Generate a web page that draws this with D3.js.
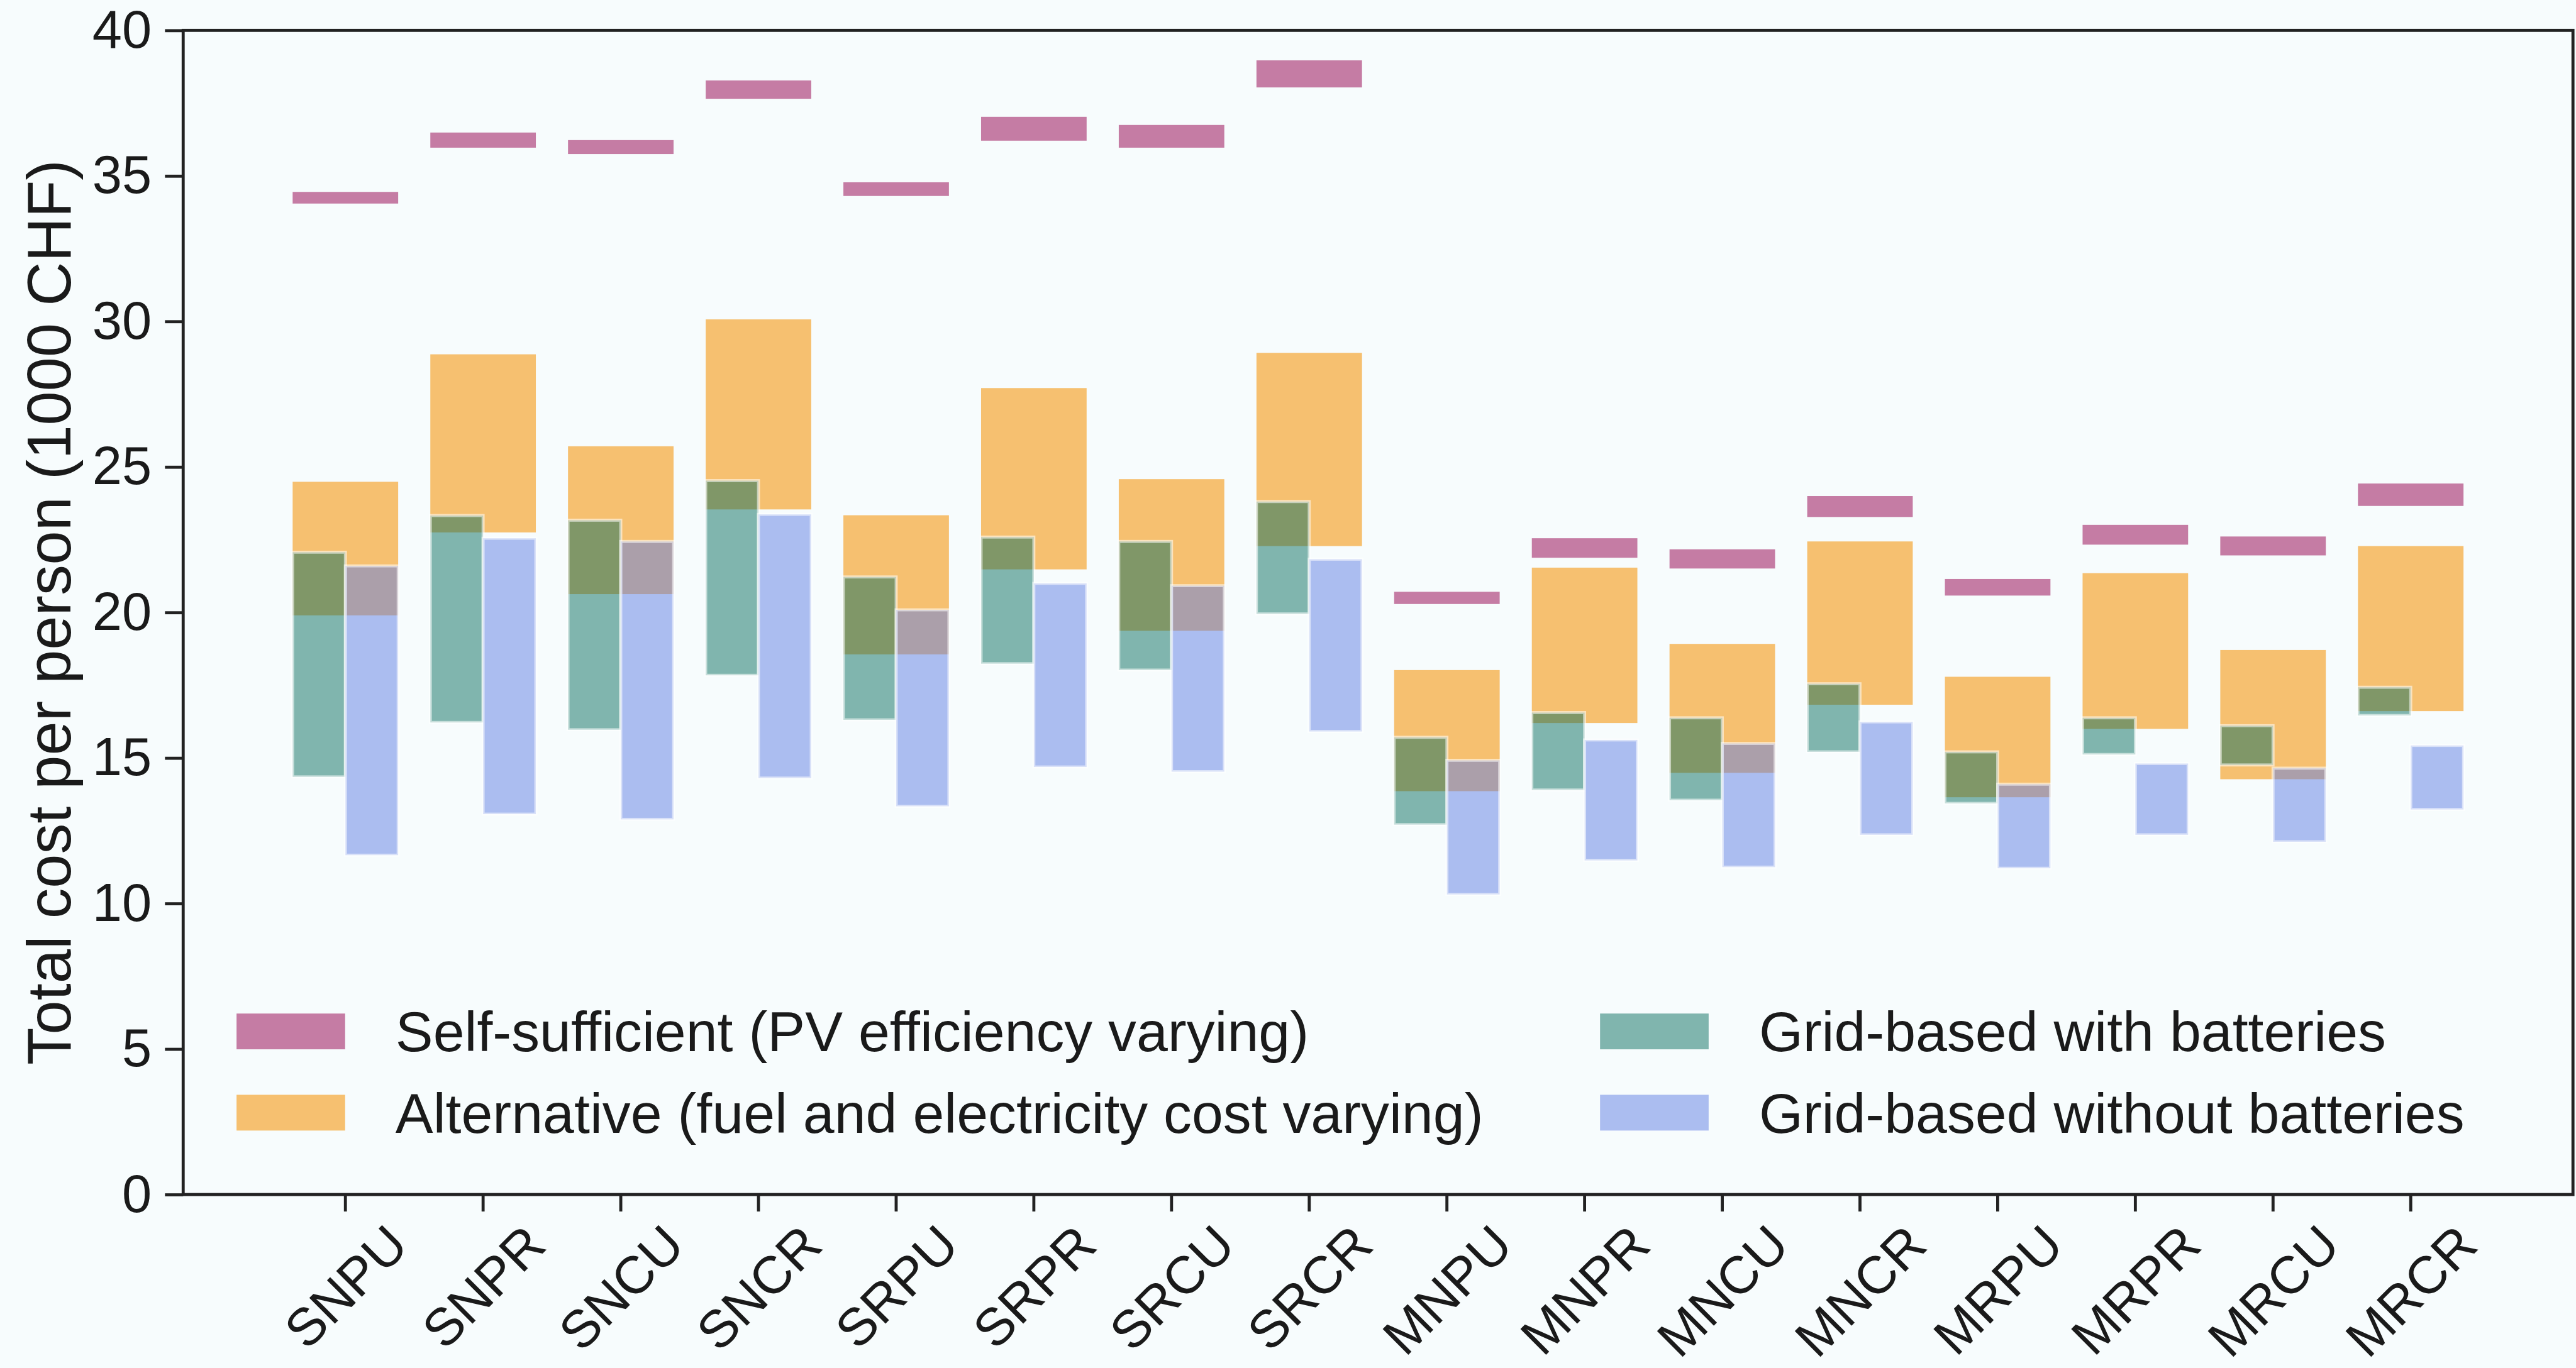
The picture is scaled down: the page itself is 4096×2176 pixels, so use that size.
<!DOCTYPE html>
<html>
<head>
<meta charset="utf-8">
<style>
  body { margin: 0; background: #f7fcfd; }
  text { font-family: "Liberation Sans", Arial, sans-serif; fill: #1a1a1a; }
</style>
</head>
<body>
<script src="https://cdn.jsdelivr.net/npm/d3@7"></script>
<script>

// scenarios on the x axis
var cats = ["SNPU","SNPR","SNCU","SNCR","SRPU","SRPR","SRCU","SRCR",
            "MNPU","MNPR","MNCU","MNCR","MRPU","MRPR","MRCU","MRCR"];

// self-sufficient range (PV efficiency varying), 1000 CHF
var selfLo = [34.05,35.97,35.75,37.65,34.31,36.21,35.97,38.04,20.29,21.88,21.51,23.28,20.58,22.33,21.96,23.66];
var selfHi = [34.45,36.49,36.23,38.28,34.78,37.03,36.75,38.97,20.71,22.55,22.17,24.00,21.15,23.01,22.61,24.43];

// alternative range (fuel and electricity cost varying)
var altLo = [19.90,22.75,20.63,23.54,18.56,21.48,19.37,22.28,13.86,16.20,14.49,16.83,13.65,16.00,14.27,16.61];
var altHi = [24.49,28.87,25.71,30.07,23.34,27.71,24.58,28.92,18.02,21.54,18.92,22.44,17.79,21.35,18.71,22.28];

// grid-based with batteries
var batLo = [14.35,16.22,15.97,17.84,16.31,18.24,18.02,19.95,12.71,13.90,13.55,15.21,13.44,15.12,14.76,16.46];
var batHi = [22.07,23.33,23.17,24.53,21.22,22.59,22.44,23.81,15.71,16.56,16.38,17.55,15.21,16.38,16.11,17.43];

// grid-based without batteries
var noBatLo = [11.66,13.07,12.89,14.31,13.34,14.69,14.53,15.91,10.31,11.48,11.25,12.36,11.21,12.36,12.12,13.23];
var noBatHi = [21.60,22.55,22.44,23.37,20.09,21.00,20.92,21.83,14.92,15.62,15.50,16.24,14.10,14.81,14.65,15.43];

var yTicks = [0,5,10,15,20,25,30,35,40];
var legendLabels = ["Self-sufficient (PV efficiency varying)",
                    "Alternative (fuel and electricity cost varying)",
                    "Grid-based with batteries",
                    "Grid-based without batteries"];

var selfColor = "#c57ca4", altColor = "#f6c070",
    batColor = "#096e5f", noBatColor = "#5f7ee3";

var W = 4247, H = 2256;
var m = {t: 50, r: 5, b: 286, l: 302};
var w = W - m.l - m.r, h = H - m.t - m.b;

var svg = d3.select("body").append("svg")
    .attr("width", 4096).attr("height", 2176)
    .attr("viewBox", "0 0 " + W + " " + H);

svg.append("rect").attr("width", W).attr("height", H).attr("fill", "#f7fcfd");

var g = svg.append("g").attr("transform", "translate(" + m.l + "," + m.t + ")");

var x = d3.scaleBand().domain(cats).range([0, w]).paddingInner(0.2335).paddingOuter(0.795);
var y = d3.scaleLinear().domain([0, 40]).range([h, 0]);
var bw = x.bandwidth();

var idx = d3.range(cats.length);

// alternative (full group width)
g.selectAll("rect.alt").data(idx).enter().append("rect")
    .attr("class", "alt")
    .attr("x", function(i) { return x(cats[i]); })
    .attr("width", bw)
    .attr("y", function(i) { return y(altHi[i]); })
    .attr("height", function(i) { return y(altLo[i]) - y(altHi[i]); })
    .attr("fill", altColor);

// self-sufficient
g.selectAll("rect.self").data(idx).enter().append("rect")
    .attr("class", "self")
    .attr("x", function(i) { return x(cats[i]); })
    .attr("width", bw)
    .attr("y", function(i) { return y(selfHi[i]); })
    .attr("height", function(i) { return y(selfLo[i]) - y(selfHi[i]); })
    .attr("fill", selfColor);

// with batteries: left half
g.selectAll("rect.bat").data(idx).enter().append("rect")
    .attr("class", "bat")
    .attr("x", function(i) { return x(cats[i]); })
    .attr("width", bw / 2)
    .attr("y", function(i) { return y(batHi[i]); })
    .attr("height", function(i) { return y(batLo[i]) - y(batHi[i]); })
    .attr("fill", batColor).attr("fill-opacity", 0.5)
    .attr("stroke", "#fff").attr("stroke-opacity", 0.55).attr("stroke-width", 5);

// without batteries: right half
g.selectAll("rect.nobat").data(idx).enter().append("rect")
    .attr("class", "nobat")
    .attr("x", function(i) { return x(cats[i]) + bw / 2; })
    .attr("width", bw / 2)
    .attr("y", function(i) { return y(noBatHi[i]); })
    .attr("height", function(i) { return y(noBatLo[i]) - y(noBatHi[i]); })
    .attr("fill", noBatColor).attr("fill-opacity", 0.5)
    .attr("stroke", "#fff").attr("stroke-opacity", 0.55).attr("stroke-width", 5);

// y axis
var yAxis = g.append("g")
    .call(d3.axisLeft(y).tickValues(yTicks).tickSize(30).tickPadding(22).tickSizeOuter(0));
yAxis.selectAll("text").attr("font-size", 88).attr("fill", "#1a1a1a")
    .attr("font-family", "Liberation Sans, Arial, sans-serif");
yAxis.selectAll("line").attr("stroke", "#222").attr("stroke-width", 5);
yAxis.select(".domain").remove();

// x axis, labels rotated 45 and centred under the tick
var xAxis = g.append("g")
    .attr("transform", "translate(0," + h + ")")
    .call(d3.axisBottom(x).tickSize(28).tickSizeOuter(0));
xAxis.selectAll("line").attr("stroke", "#222").attr("stroke-width", 5);
xAxis.select(".domain").remove();
xAxis.selectAll("text")
    .attr("font-size", 87).attr("fill", "#1a1a1a")
    .attr("font-family", "Liberation Sans, Arial, sans-serif")
    .attr("text-anchor", "middle")
    .attr("y", 0).attr("dy", "0.358em")
    .attr("transform", function() {
      var L = this.getComputedTextLength();
      var cy = 44 + (L + 0.716 * 87) / (2 * Math.SQRT2);
      return "translate(0," + cy + ") rotate(-45)";
    });

// frame
g.append("rect")
    .attr("width", w).attr("height", h)
    .attr("fill", "none").attr("stroke", "#222").attr("stroke-width", 5);

// y label
svg.append("text")
    .attr("transform", "translate(116," + (m.t + h / 2) + ") rotate(-90)")
    .attr("text-anchor", "middle")
    .attr("font-size", 101)
    .text("Total cost per person (1000 CHF)");

// legend
var legColors = [selfColor, altColor, batColor, noBatColor];
var legOpac = [1, 1, 0.5, 0.5];
var leg = svg.append("g");
legendLabels.forEach(function(lab, i) {
  var col = Math.floor(i / 2), row = i % 2;
  var px = col === 0 ? 390 : 2638;
  var cy = 1701 + row * 134;
  leg.append("rect")
      .attr("x", px).attr("y", cy - 29.5)
      .attr("width", 179).attr("height", 59)
      .attr("fill", legColors[i]).attr("fill-opacity", legOpac[i]);
  leg.append("text")
      .attr("x", px + 262).attr("y", cy + 33)
      .attr("font-size", 93)
      .text(lab);
});

</script>
</body>
</html>
